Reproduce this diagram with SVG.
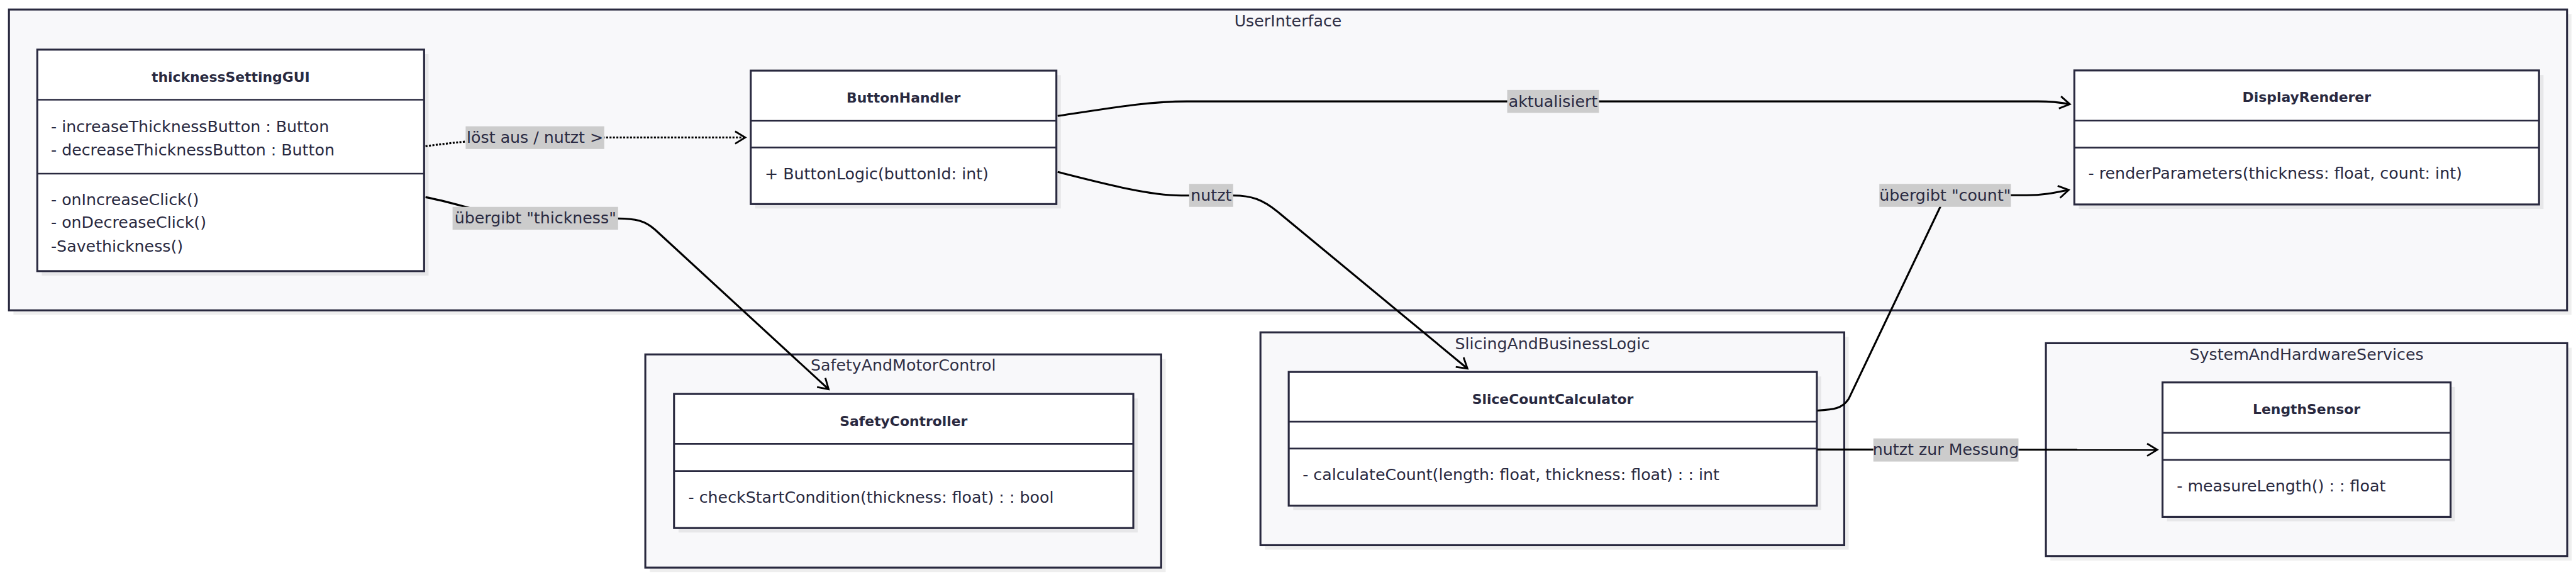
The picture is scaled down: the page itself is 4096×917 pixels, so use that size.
<svg xmlns="http://www.w3.org/2000/svg" width="4096" height="917" viewBox="0 0 4096 917">
<defs>
<style>
.cl{fill:#f8f8fa;stroke:#29293f;stroke-width:3.5}
.sh{fill:#000;fill-opacity:0.065}
.nb{fill:#ffffff;stroke:#29293f;stroke-width:3.5}
.dv{stroke:#29293f;stroke-width:3;fill:none}
.ct{font-family:"DejaVu Sans",Verdana,sans-serif;font-size:28.4px;fill:#2f2f45;text-anchor:middle}
.tt{font-family:"DejaVu Sans",Verdana,sans-serif;font-size:24.6px;font-weight:bold;fill:#29293f;text-anchor:middle}
.mt{font-family:"DejaVu Sans",Verdana,sans-serif;font-size:28.4px;fill:#29293f}
.ed{fill:none;stroke:#000;stroke-width:3.5}
.dot{stroke-dasharray:3.5 2.6}
.lb{fill:#cccccc}
.lt{font-family:"DejaVu Sans",Verdana,sans-serif;font-size:28.4px;fill:#2a2a42;text-anchor:middle}
</style>
<marker id="vee" markerUnits="userSpaceOnUse" markerWidth="24" markerHeight="26" viewBox="0 0 24 26" refX="19" refY="12" orient="auto" overflow="visible">
<path d="M1,1 L19,12 L1,23" fill="none" stroke="#000" stroke-width="3.2" stroke-dasharray="none"/>
</marker>
</defs>
<rect x="0" y="0" width="4096" height="917" fill="#ffffff"/>
<g transform="scale(0.89024)">
<g id="cluster-UserInterface">
<rect class="sh" x="24" y="25" width="4569" height="537"/>
<rect class="cl" x="16" y="17" width="4569" height="537"/>
<text class="ct" x="2300.5" y="47">UserInterface</text>
</g>
<g id="cluster-SafetyAndMotorControl">
<rect class="sh" x="1160.6" y="640.7" width="921.4" height="380.6"/>
<rect class="cl" x="1152.6" y="632.7" width="921.4" height="380.6"/>
<text class="ct" x="1613.3" y="662">SafetyAndMotorControl</text>
</g>
<g id="cluster-SlicingAndBusinessLogic">
<rect class="sh" x="2259.3" y="601.3" width="1042.7" height="380"/>
<rect class="cl" x="2251.3" y="593.3" width="1042.7" height="380"/>
<text class="ct" x="2772.7" y="623.5">SlicingAndBusinessLogic</text>
</g>
<g id="cluster-SystemAndHardwareServices">
<rect class="sh" x="3662.2" y="620.7" width="931.1" height="380"/>
<rect class="cl" x="3654.2" y="612.7" width="931.1" height="380"/>
<text class="ct" x="4119.8" y="642">SystemAndHardwareServices</text>
</g>

<g id="node-thicknessSettingGUI">
<rect class="sh" x="74.6" y="96.6" width="690.9" height="395.4"/>
<rect class="nb" x="66.6" y="88.6" width="690.9" height="395.4"/>
<line class="dv" x1="66.6" y1="178" x2="757.5" y2="178"/>
<line class="dv" x1="66.6" y1="310" x2="757.5" y2="310"/>
<text class="tt" x="412" y="145.5">thicknessSettingGUI</text>
<text class="mt" x="91" y="236">- increaseThicknessButton : Button</text>
<text class="mt" x="91" y="277">- decreaseThicknessButton : Button</text>
<text class="mt" x="91" y="366">- onIncreaseClick()</text>
<text class="mt" x="91" y="407">- onDecreaseClick()</text>
<text class="mt" x="91" y="449">-Savethickness()</text>
</g>
<g id="node-ButtonHandler">
<rect class="sh" x="1348.9" y="134" width="545.9" height="238.3"/>
<rect class="nb" x="1340.9" y="126" width="545.9" height="238.3"/>
<line class="dv" x1="1340.9" y1="215.7" x2="1886.8" y2="215.7"/>
<line class="dv" x1="1340.9" y1="263.3" x2="1886.8" y2="263.3"/>
<text class="tt" x="1613.8" y="183">ButtonHandler</text>
<text class="mt" x="1366" y="320">+ ButtonLogic(buttonId: int)</text>
</g>
<g id="node-DisplayRenderer">
<rect class="sh" x="3713" y="133.7" width="830" height="239.3"/>
<rect class="nb" x="3705" y="125.7" width="830" height="239.3"/>
<line class="dv" x1="3705" y1="215.4" x2="4535" y2="215.4"/>
<line class="dv" x1="3705" y1="263.6" x2="4535" y2="263.6"/>
<text class="tt" x="4120" y="182.5">DisplayRenderer</text>
<text class="mt" x="3730" y="319">- renderParameters(thickness: float, count: int)</text>
</g>
<g id="node-SafetyController">
<rect class="sh" x="1211.9" y="711.3" width="820.3" height="239.4"/>
<rect class="nb" x="1203.9" y="703.3" width="820.3" height="239.4"/>
<line class="dv" x1="1203.9" y1="792.3" x2="2024.2" y2="792.3"/>
<line class="dv" x1="1203.9" y1="841" x2="2024.2" y2="841"/>
<text class="tt" x="1614" y="760">SafetyController</text>
<text class="mt" x="1229.5" y="897.5">- checkStartCondition(thickness: float) : : bool</text>
</g>
<g id="node-SliceCountCalculator">
<rect class="sh" x="2309.8" y="672" width="943.3" height="238.7"/>
<rect class="nb" x="2301.8" y="664" width="943.3" height="238.7"/>
<line class="dv" x1="2301.8" y1="752.7" x2="3245.1" y2="752.7"/>
<line class="dv" x1="2301.8" y1="800.7" x2="3245.1" y2="800.7"/>
<text class="tt" x="2773.4" y="721">SliceCountCalculator</text>
<text class="mt" x="2326.5" y="857">- calculateCount(length: float, thickness: float) : : int</text>
</g>
<g id="node-LengthSensor">
<rect class="sh" x="3870.5" y="690.7" width="514.5" height="240"/>
<rect class="nb" x="3862.5" y="682.7" width="514.5" height="240"/>
<line class="dv" x1="3862.5" y1="772.7" x2="4377" y2="772.7"/>
<line class="dv" x1="3862.5" y1="821" x2="4377" y2="821"/>
<text class="tt" x="4119.8" y="739.5">LengthSensor</text>
<text class="mt" x="3888" y="877.5">- measureLength() : : float</text>
</g>

<g id="connectors">
<path class="ed dot" d="M760,261 C850,249 920,245.5 1000,245.5 L1331,245.5" marker-end="url(#vee)"/>
<path class="ed" d="M760,352 C830,365 880,390 960,390 L1104,390 C1135,390 1152,394 1170,410 L1480,695" marker-end="url(#vee)"/>
<path class="ed" d="M1889,207 C1990,192 2050,181 2120,181 L3640,181 C3665,181 3680,183 3697,186" marker-end="url(#vee)"/>
<path class="ed" d="M1889,307 C1960,325 2050,349 2110,349 L2203,349 C2235,349 2255,356 2282,378 L2621,658" marker-end="url(#vee)"/>
<path class="ed" d="M3246,733 C3275,731 3290,730 3302,712 L3468,364 C3476,352 3490,348.5 3510,348.5 L3620,348.5 C3650,348.5 3670,344 3695,339" marker-end="url(#vee)"/>
<path class="ed" d="M3246,802.5 L3853,803" marker-end="url(#vee)"/>
</g>

<g id="edge-labels">
<rect class="lb" x="831.7" y="225.5" width="247.6" height="40.5"/>
<text class="lt" x="955.5" y="255">löst aus / nutzt &gt;</text>
<rect class="lb" x="808.3" y="369.3" width="295.7" height="40.7"/>
<text class="lt" x="956.2" y="399">übergibt "thickness"</text>
<rect class="lb" x="2692" y="160.5" width="164" height="41"/>
<text class="lt" x="2774" y="190.5">aktualisiert</text>
<rect class="lb" x="2124" y="328.3" width="78.6" height="41"/>
<text class="lt" x="2163.3" y="358">nutzt</text>
<rect class="lb" x="3356.7" y="328.3" width="235" height="41"/>
<text class="lt" x="3474.2" y="358">übergibt "count"</text>
<rect class="lb" x="3346" y="782.7" width="259.2" height="41.3"/>
<text class="lt" x="3475.6" y="812.5">nutzt zur Messung</text>
</g>
</g>
</svg>
